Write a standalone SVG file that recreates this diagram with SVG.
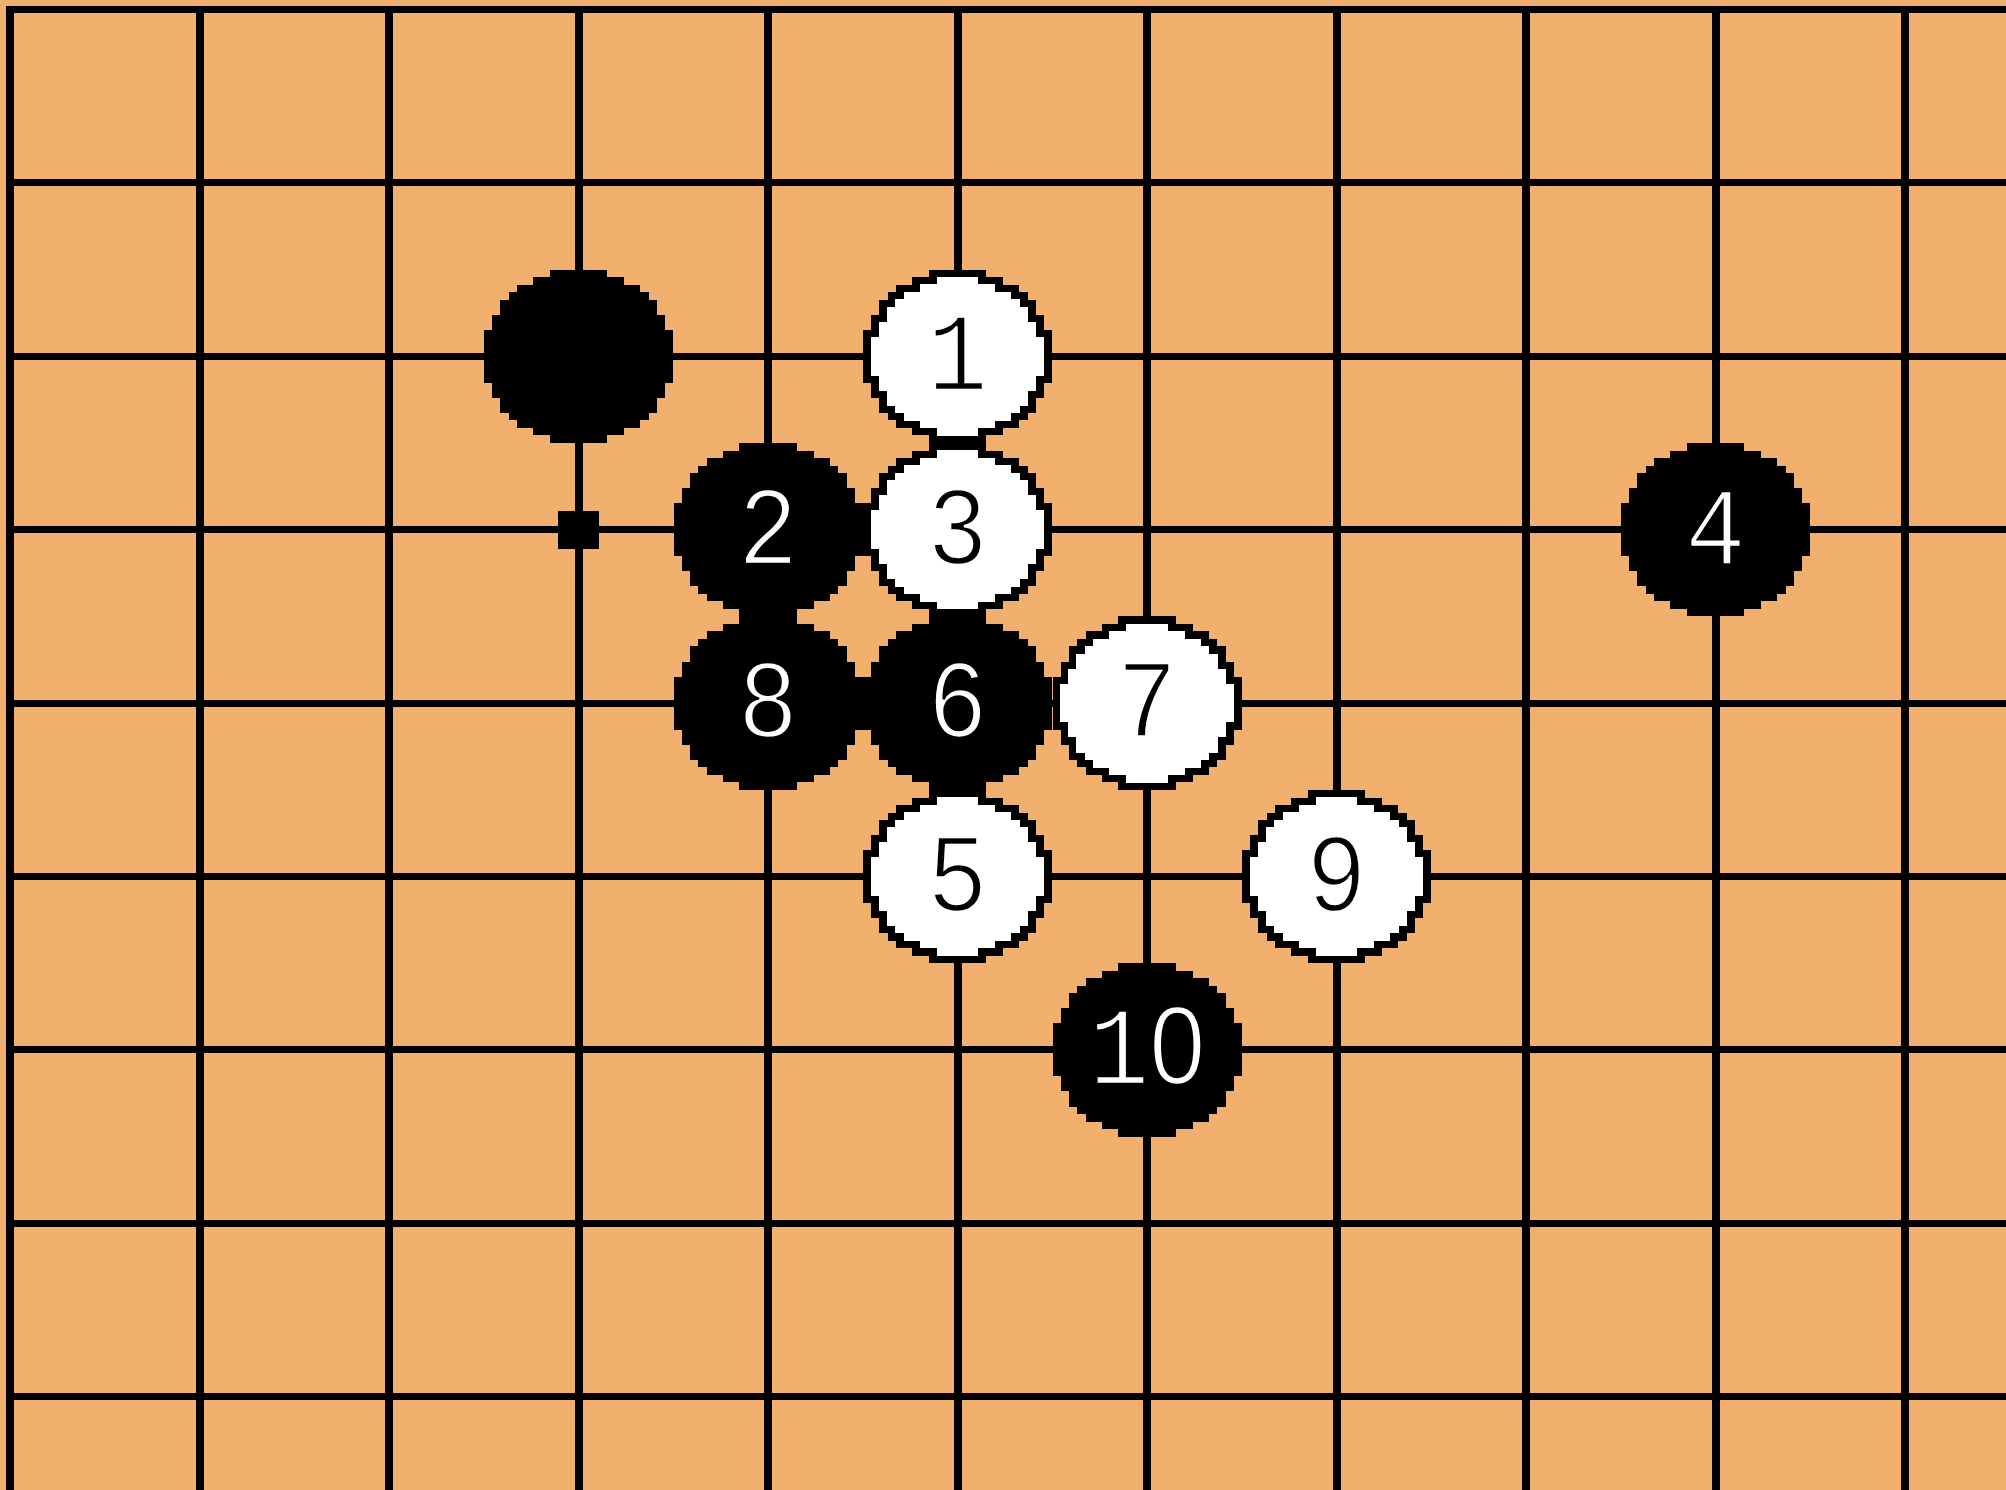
<svg xmlns="http://www.w3.org/2000/svg" xmlns:xlink="http://www.w3.org/1999/xlink" width="2006" height="1490" viewBox="0 0 2006 1490">
<style>
.bg{fill:#F1B06E}
.ln{fill:#000}
.blk{fill:#000}
.wht{fill:#fff}
.num{font-family:"Liberation Mono","DejaVu Sans Mono",monospace;font-size:112px;text-anchor:middle}
.onb{fill:#fff;stroke:#000;stroke-width:2.5}
.onw{fill:#000;stroke:#fff;stroke-width:2.5}
.zero{font-family:"Liberation Sans","DejaVu Sans",sans-serif}
</style>
<defs>
<path id="outer" shape-rendering="crispEdges" d="M -28.7,-86.7 H 28.7 V -79 H 45.5 V -71.7 H 61.5 V -64 H 70 V -56.7 H 78.5 V -41.5 H 86.5 V -26.5 H 94.5 V 26.5 H 86.5 V 41.5 H 78.5 V 56.7 H 70 V 64 H 61.5 V 71.7 H 45.5 V 79 H 28.7 V 86.7 H -28.7 V 79 H -45.5 V 71.7 H -61.5 V 64 H -70 V 56.7 H -78.5 V 41.5 H -86.5 V 26.5 H -94.5 V -26.5 H -86.5 V -41.5 H -78.5 V -56.7 H -70 V -64 H -61.5 V -71.7 H -45.5 V -79 H -28.7 Z"/>
<path id="inner" shape-rendering="crispEdges" d="M -20.8,-79.5 H 20.8 V -71.8 H 37.6 V -64.5 H 53.6 V -56.8 H 62.1 V -49.5 H 70.6 V -34.3 H 78.6 V -19.3 H 86.6 V 19.3 H 78.6 V 34.3 H 70.6 V 49.5 H 62.1 V 56.8 H 53.6 V 64.5 H 37.6 V 71.8 H 20.8 V 79.5 H -20.8 V 71.8 H -37.6 V 64.5 H -53.6 V 56.8 H -62.1 V 49.5 H -70.6 V 34.3 H -78.6 V 19.3 H -86.6 V -19.3 H -78.6 V -34.3 H -70.6 V -49.5 H -62.1 V -56.8 H -53.6 V -64.5 H -37.6 V -71.8 H -20.8 Z"/>
</defs>
<rect class="bg" x="0" y="0" width="2006" height="1490"/>
<g id="grid" shape-rendering="crispEdges">
<rect class="ln" x="6" y="6" width="8" height="1484"/>
<rect class="ln" x="195.5" y="6" width="8" height="1484"/>
<rect class="ln" x="385" y="6" width="8" height="1484"/>
<rect class="ln" x="574.5" y="6" width="8" height="1484"/>
<rect class="ln" x="764" y="6" width="8" height="1484"/>
<rect class="ln" x="953.5" y="6" width="8" height="1484"/>
<rect class="ln" x="1143" y="6" width="8" height="1484"/>
<rect class="ln" x="1332.5" y="6" width="8" height="1484"/>
<rect class="ln" x="1522" y="6" width="8" height="1484"/>
<rect class="ln" x="1711.5" y="6" width="8" height="1484"/>
<rect class="ln" x="1901" y="6" width="8" height="1484"/>
<rect class="ln" x="6" y="6" width="2000" height="7"/>
<rect class="ln" x="6" y="179.4" width="2000" height="7"/>
<rect class="ln" x="6" y="352.8" width="2000" height="7"/>
<rect class="ln" x="6" y="526.2" width="2000" height="7"/>
<rect class="ln" x="6" y="699.6" width="2000" height="7"/>
<rect class="ln" x="6" y="873" width="2000" height="7"/>
<rect class="ln" x="6" y="1046.4" width="2000" height="7"/>
<rect class="ln" x="6" y="1219.8" width="2000" height="7"/>
<rect class="ln" x="6" y="1393.2" width="2000" height="7"/>
<rect id="hoshi" class="ln" x="558" y="511" width="41" height="38"/>
</g>
<g id="stone-black-0" transform="translate(578.5,356.3)"><use xlink:href="#outer" class="blk"/></g>
<g id="stone-1" transform="translate(957.5,356.3)"><use xlink:href="#outer" class="blk"/><use xlink:href="#inner" class="wht"/><text class="num onw" x="0" y="34" transform="scale(0.9 1)">1</text></g>
<g id="stone-2" transform="translate(768,529.7)"><use xlink:href="#outer" class="blk"/><text class="num onb" x="0" y="34" transform="scale(0.9 1)">2</text></g>
<g id="stone-3" transform="translate(957.5,529.7)"><use xlink:href="#outer" class="blk"/><use xlink:href="#inner" class="wht"/><text class="num onw" x="0" y="34" transform="scale(0.9 1)">3</text></g>
<g id="stone-4" transform="translate(1715.5,529.7)"><use xlink:href="#outer" class="blk"/><text class="num onb" x="0" y="34" transform="scale(0.9 1)">4</text></g>
<g id="stone-5" transform="translate(957.5,876.5)"><use xlink:href="#outer" class="blk"/><use xlink:href="#inner" class="wht"/><text class="num onw" x="0" y="34" transform="scale(0.9 1)">5</text></g>
<g id="stone-6" transform="translate(957.5,703.1)"><use xlink:href="#outer" class="blk"/><text class="num onb" x="0" y="34" transform="scale(0.9 1)">6</text></g>
<g id="stone-7" transform="translate(1147,703.1)"><use xlink:href="#outer" class="blk"/><use xlink:href="#inner" class="wht"/><text class="num onw" x="0" y="34" transform="scale(0.9 1)">7</text></g>
<g id="stone-8" transform="translate(768,703.1)"><use xlink:href="#outer" class="blk"/><text class="num onb" x="0" y="34" transform="scale(0.9 1)">8</text></g>
<g id="stone-9" transform="translate(1336.5,876.5)"><use xlink:href="#outer" class="blk"/><use xlink:href="#inner" class="wht"/><text class="num onw" x="0" y="34" transform="scale(0.9 1)">9</text></g>
<g id="stone-10" transform="translate(1147,1049.9)"><use xlink:href="#outer" class="blk"/><text class="num onb" x="0" y="34" transform="scale(0.9 1)">1<tspan class="zero">0</tspan></text></g>
</svg>
